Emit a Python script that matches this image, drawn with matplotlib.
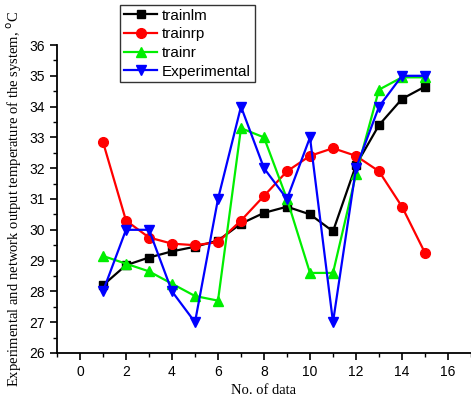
import matplotlib
matplotlib.use("Agg")
import matplotlib.pyplot as plt
from matplotlib.ticker import MultipleLocator

x = list(range(1, 16))
trainlm = [28.2, 28.85, 29.1, 29.3, 29.45, 29.65, 30.2, 30.55, 30.75, 30.5, 29.95, 32.1, 33.4, 34.25, 34.65]
trainrp = [32.85, 30.3, 29.75, 29.55, 29.5, 29.6, 30.3, 31.1, 31.9, 32.4, 32.65, 32.4, 31.9, 30.75, 29.25]
trainr = [29.15, 28.9, 28.65, 28.25, 27.85, 27.7, 33.3, 33.0, 31.0, 28.6, 28.6, 31.8, 34.55, 34.95, 34.95]
experimental = [28, 30, 30, 28, 27, 31, 34, 32, 31, 33, 27, 32, 34, 35, 35]

fig = plt.figure(figsize=(4.71, 4.0), dpi=100)
ax = fig.add_axes([0.121, 0.1175, 0.879, 0.77])

ax.plot(x, trainlm, '-s', color='black', lw=1.6, ms=6, label='trainlm')
ax.plot(x, trainrp, '-o', color='red', lw=1.6, ms=7, label='trainrp')
ax.plot(x, trainr, '-^', color='#00ee00', lw=1.6, ms=7, label='trainr')
ax.plot(x, experimental, '-v', color='blue', lw=1.6, ms=7, label='Experimental')

ax.set_xlim(-1, 17)
ax.set_ylim(26, 36)
ax.xaxis.set_major_locator(MultipleLocator(2))
ax.xaxis.set_minor_locator(MultipleLocator(1))
ax.yaxis.set_major_locator(MultipleLocator(1))
ax.yaxis.set_minor_locator(MultipleLocator(0.5))
ax.spines['top'].set_visible(False)
ax.spines['right'].set_visible(False)
ax.spines['left'].set_linewidth(1.3)
ax.spines['bottom'].set_linewidth(1.3)
ax.tick_params(which='major', direction='out', length=5, width=1.2, labelsize=10)
ax.tick_params(which='minor', direction='out', length=3, width=1.0)
for lab in ax.get_xticklabels() + ax.get_yticklabels():
    lab.set_fontfamily('Liberation Sans')

ax.set_xlabel('No. of data', family='Liberation Serif', fontsize=10.5)
ax.set_ylabel('Experimental and network output temperature of the system, $^{\\rm o}$C',
              family='Liberation Serif', fontsize=10.5)

leg = ax.legend(loc='upper left', bbox_to_anchor=(0.152, 1.13), frameon=True, fancybox=False,
                edgecolor='black', handlelength=2.2, handletextpad=0.3, borderpad=0.25,
                labelspacing=0.3, borderaxespad=0,
                prop={'family': 'Liberation Sans', 'size': 11})
leg.get_frame().set_linewidth(1.0)

fig.savefig('out.png', dpi=100)
